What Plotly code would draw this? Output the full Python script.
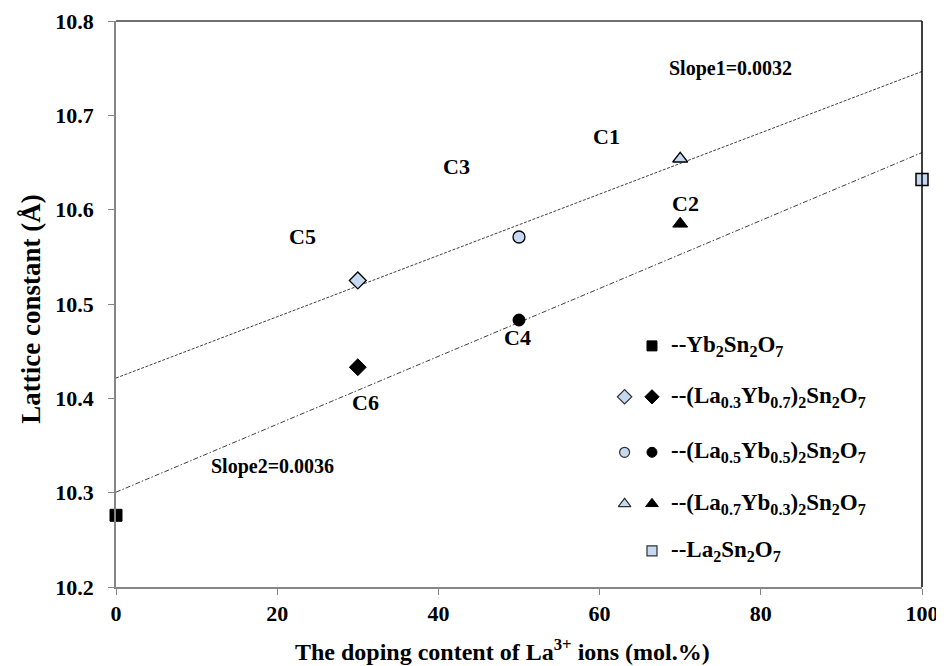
import plotly.graph_objects as go

# ---------------- data ----------------
x_yb = [0]
y_yb = [10.276]
x_la = [100]
y_la = [10.632]

x_c_light = [30, 50, 70]          # C5, C3, C1 (light symbols)
y_c_light = [10.525, 10.571, 10.654]
x_c_dark = [30, 50, 70]           # C6, C4, C2 (filled black symbols)
y_c_dark = [10.433, 10.483, 10.585]

symbols = ["diamond", "circle", "triangle-up"]

# linear trend lines (intercept, slope)
fit1 = (10.4215, 0.00325)
fit2 = (10.3005, 0.0036)
fit_x = [0, 100]

point_labels = ["C1", "C2", "C3", "C4", "C5", "C6"]
label_x = [60.9, 70.6, 42.3, 49.8, 23.1, 30.9]
label_y = [10.678, 10.607, 10.646, 10.465, 10.572, 10.396]

slope_texts = ["Slope1=0.0032", "Slope2=0.0036"]
slope_x = [76.2, 19.4]
slope_y = [10.750, 10.328]

x_ticks = [0, 20, 40, 60, 80, 100]
y_ticks = [10.2, 10.3, 10.4, 10.5, 10.6, 10.7, 10.8]

x_title = "The doping content of La<sup>3+</sup> ions (mol.%)"
y_title = "Lattice constant (Å)"

legend_names = [
    "--Yb<sub>2</sub>Sn<sub>2</sub>O<sub>7</sub>",
    "--(La<sub>0.3</sub>Yb<sub>0.7</sub>)<sub>2</sub>Sn<sub>2</sub>O<sub>7</sub>",
    "--(La<sub>0.5</sub>Yb<sub>0.5</sub>)<sub>2</sub>Sn<sub>2</sub>O<sub>7</sub>",
    "--(La<sub>0.7</sub>Yb<sub>0.3</sub>)<sub>2</sub>Sn<sub>2</sub>O<sub>7</sub>",
    "--La<sub>2</sub>Sn<sub>2</sub>O<sub>7</sub>",
]
# legend glyphs per row: list of (symbol, light?, column)
legend_glyphs = [
    [("square", False, 1)],
    [("diamond", True, 0), ("diamond", False, 1)],
    [("circle", True, 0), ("circle", False, 1)],
    [("triangle-up", True, 0), ("triangle-up", False, 1)],
    [("square", True, 1)],
]
legend_rows_y = [0.426, 0.336, 0.238, 0.147, 0.064]
legend_cols_x = [0.631, 0.665]
legend_text_x = 0.686

# ---------------- style ----------------
LIGHT = "#c6d9f1"
FONT = "Liberation Serif"
GREY = "#868686"


def bold(size):
    return dict(family=FONT, size=size, color="black", weight="bold")


fig = go.Figure()

# trend lines
for (b, m), dash in [(fit1, "3px,1.5px"), (fit2, "5px,2px,1.5px,2px")]:
    fig.add_trace(go.Scatter(
        x=fit_x, y=[b + m * xv for xv in fit_x], mode="lines",
        line=dict(color="#404040", width=1, dash=dash),
        hoverinfo="skip", showlegend=False))

# end members
fig.add_trace(go.Scatter(x=x_yb, y=y_yb, mode="markers",
                         marker=dict(symbol="square", size=12, color="black",
                                     line=dict(color="black", width=1)),
                         showlegend=False, cliponaxis=False))
fig.add_trace(go.Scatter(x=x_la, y=y_la, mode="markers",
                         marker=dict(symbol="square", size=12, color=LIGHT,
                                     line=dict(color="black", width=1.5)),
                         showlegend=False, cliponaxis=False))

# doped compositions
sizes = {"diamond": 13, "circle": 12, "triangle-up": 13, "square": 12}
for xl, yl, xd, yd, s in zip(x_c_light, y_c_light, x_c_dark, y_c_dark, symbols):
    fig.add_trace(go.Scatter(x=[xl], y=[yl], mode="markers",
                             marker=dict(symbol=s, size=sizes[s], color=LIGHT,
                                         line=dict(color="black", width=1.3)),
                             showlegend=False))
    fig.add_trace(go.Scatter(x=[xd], y=[yd], mode="markers",
                             marker=dict(symbol=s, size=sizes[s], color="black",
                                         line=dict(color="black", width=1)),
                             showlegend=False))

# legend glyphs on an overlay axis
for yy, row in zip(legend_rows_y, legend_glyphs):
    for sym, light, col in row:
        fig.add_trace(go.Scatter(
            x=[legend_cols_x[col]], y=[yy], xaxis="x2", yaxis="y2", mode="markers",
            marker=dict(symbol=sym, size=sizes[sym] - 2,
                        color=LIGHT if light else "black",
                        line=dict(color="#303030" if light else "black",
                                  width=1.2 if light else 1)),
            showlegend=False, hoverinfo="skip"))

annotations = []
for t, yy in zip(legend_names, legend_rows_y):
    annotations.append(dict(x=legend_text_x, y=yy, xref="paper", yref="paper",
                            text=t, showarrow=False, xanchor="left", yanchor="middle",
                            font=bold(23)))
for t, xx, yy in zip(point_labels, label_x, label_y):
    annotations.append(dict(x=xx, y=yy, xref="x", yref="y", text=t, showarrow=False,
                            font=bold(22)))
for t, xx, yy in zip(slope_texts, slope_x, slope_y):
    annotations.append(dict(x=xx, y=yy, xref="x", yref="y", text=t, showarrow=False,
                            font=bold(20)))
# axis titles
annotations.append(dict(x=0.479, y=0, xref="paper", yref="paper", text=x_title,
                        showarrow=False, xanchor="center", yanchor="middle",
                        yshift=-63, font=bold(24)))
annotations.append(dict(x=0, y=0.49, xref="paper", yref="paper", text=y_title,
                        showarrow=False, xanchor="center", yanchor="middle",
                        textangle=-90, xshift=-85, font=bold(27)))

fig.update_layout(
    width=944, height=666,
    margin=dict(l=108, r=30, t=13, b=87, autoexpand=False),
    paper_bgcolor="white", plot_bgcolor="white",
    font=dict(family=FONT, size=22, color="black"),
    showlegend=False,
    annotations=annotations,
    xaxis=dict(range=[0, 100], tickvals=x_ticks, showgrid=False, zeroline=False,
               showline=True, linecolor=GREY, linewidth=1.5,
               ticks="outside", ticklen=6, tickcolor=GREY, tickwidth=1.2,
               ticklabeloverflow="allow",
               tickfont=bold(22), automargin=False),
    yaxis=dict(range=[10.2, 10.8], tickvals=y_ticks, tickformat=".1f",
               showgrid=False, zeroline=False,
               showline=True, linecolor=GREY, linewidth=1.5,
               ticks="outside", ticklen=6, tickcolor=GREY, tickwidth=1.2,
               ticklabelstandoff=10, ticklabeloverflow="allow",
               tickfont=bold(22), automargin=False),
    xaxis2=dict(range=[0, 1], overlaying="x", visible=False, fixedrange=True),
    yaxis2=dict(range=[0, 1], overlaying="y", visible=False, fixedrange=True),
    shapes=[
        dict(type="line", xref="paper", yref="paper", x0=0, x1=1, y0=1, y1=1,
             line=dict(color="#404040", width=1.5)),
        dict(type="line", xref="paper", yref="paper", x0=1, x1=1, y0=0, y1=1,
             line=dict(color="black", width=1.5)),
    ],
)

fig.write_html("out.html")
